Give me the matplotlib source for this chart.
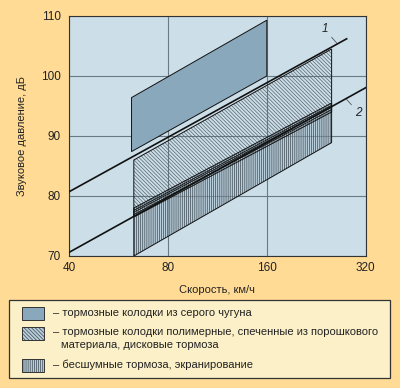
import numpy as np
import matplotlib
matplotlib.use("Agg")
import matplotlib.pyplot as plt
from matplotlib.patches import Polygon, Rectangle

plt.rcParams['font.family'] = ['Liberation Sans', 'DejaVu Sans']
plt.rcParams['hatch.linewidth'] = 0.5

# speed, km/h (log2 axis) and sound pressure, dB
x_ticks = [40, 80, 160, 320]
y_ticks = [70, 80, 90, 100, 110]

# bands: speed range, lower edge (left, right), upper edge (left, right)
iron_v = [62, 160]
iron_low = [87.4, 100.0]
iron_high = [96.4, 109.3]

polymer_v = [63, 252]
polymer_low = [76.5, 94.0]
polymer_high = [86.0, 104.5]

quiet_v = [63, 252]
quiet_low = [70.0, 88.9]
quiet_high = [78.0, 95.5]

# dense lines in the overlap band
band_left = [76.9, 77.3, 77.6]
band_right = [94.4, 94.8, 95.1]

# boundary lines 1 and 2
line1_v = [40, 280]
line1_db = [80.7, 106.2]
line2_v = [40, 320]
line2_db = [70.6, 98.05]

bg = '#FFDB95'
ax_bg = '#CCDEE8'
iron_col = '#8AA8BB'
hatch_col = '#3c4850'

fig = plt.figure(figsize=(4.0, 3.88), dpi=100, facecolor=bg)
ax = fig.add_axes([69/400, 1-256/388, 296.7/400, 240/388])
ax.set_facecolor(ax_bg)
ax.set_xscale('log', base=2)
ax.set_xlim(40, 320)
ax.set_ylim(70, 110)


def band(v, low, high):
    return [(v[0], low[0]), (v[1], low[1]), (v[1], high[1]), (v[0], high[0])]


ax.add_patch(Polygon(band(quiet_v, quiet_low, quiet_high), closed=True,
                     facecolor=(0.66, 0.75, 0.81, 0.5), edgecolor=hatch_col,
                     hatch='||||||||', linewidth=0, zorder=2))
ax.add_patch(Polygon(band(quiet_v, quiet_low, quiet_high), closed=True,
                     facecolor='none', edgecolor='#111111', linewidth=0.7, zorder=3))
ax.add_patch(Polygon(band(polymer_v, polymer_low, polymer_high), closed=True,
                     facecolor='none', edgecolor='#56646c', hatch='\\' * 9,
                     linewidth=0, zorder=2))
ax.add_patch(Polygon(band(polymer_v, polymer_low, polymer_high), closed=True,
                     facecolor='none', edgecolor='#111111', linewidth=0.7, zorder=3))
for a, b in zip(band_left, band_right):
    ax.plot(polymer_v, [a, b], color='#111111', lw=0.6, zorder=3)

ax.add_patch(Polygon(band(iron_v, iron_low, iron_high), closed=True,
                     facecolor=iron_col, edgecolor='#111111', linewidth=0.7, zorder=3))

ax.plot(line1_v, line1_db, color='#111111', lw=1.2, zorder=4)
ax.plot(line2_v, line2_db, color='#111111', lw=1.2, zorder=4)

# labels 1 and 2 with leaders
ax.annotate('1', xy=(262, 105.4), xytext=(240, 107.8), fontsize=8.5, style='italic',
            color='#222222', ha='center', va='center',
            arrowprops=dict(arrowstyle='-', color='#555555', lw=0.6,
                            shrinkA=1, shrinkB=0))
ax.annotate('2', xy=(280, 96.1), xytext=(304, 93.9), fontsize=8.5, style='italic',
            color='#222222', ha='center', va='center',
            arrowprops=dict(arrowstyle='-', color='#555555', lw=0.6,
                            shrinkA=1, shrinkB=0))

ax.set_xticks(x_ticks)
ax.set_xticklabels([str(t) for t in x_ticks])
ax.xaxis.set_minor_locator(matplotlib.ticker.NullLocator())
ax.set_yticks(y_ticks)
ax.tick_params(length=0, labelsize=8.5, colors='#222222')
ax.tick_params(axis='x', pad=4)
ax.tick_params(axis='y', pad=6)
ax.grid(True, color='#6a7a84', lw=0.8, zorder=0.5)
ax.set_axisbelow(True)
for s in ax.spines.values():
    s.set_color('#333333')
    s.set_linewidth(0.8)

ax.set_xlabel('Скорость, км/ч', fontsize=8, color='#222222')
ax.xaxis.set_label_coords(0.5, -0.121)
ax.set_ylabel('Звуковое давление, дБ', fontsize=8, color='#222222')
ax.yaxis.set_label_coords(-0.142, 0.5)

# legend drawn in pixel coordinates
lg = fig.add_axes([0, 0, 1, 1], zorder=5)
lg.set_xlim(0, 400)
lg.set_ylim(388, 0)
lg.axis('off')
lg.add_patch(Rectangle((9, 300), 381, 78, facecolor='#FBF0C8',
                       edgecolor='#333333', lw=0.9))
lg.add_patch(Rectangle((22, 307), 22, 13, facecolor=iron_col,
                       edgecolor='#333333', lw=0.7))
lg.add_patch(Rectangle((22, 327), 22, 13, facecolor='#B9CEDB',
                       edgecolor=hatch_col, hatch='\\' * 9, lw=0))
lg.add_patch(Rectangle((22, 327), 22, 13, facecolor='none',
                       edgecolor='#333333', lw=0.7))
lg.add_patch(Rectangle((22, 359), 22, 13, facecolor='#B9CEDB',
                       edgecolor=hatch_col, hatch='||||||||', lw=0))
lg.add_patch(Rectangle((22, 359), 22, 13, facecolor='none',
                       edgecolor='#333333', lw=0.7))
kw = dict(fontsize=8, color='#222222', va='center', ha='left')
lg.text(53, 313, '– тормозные колодки из серого чугуна', **kw)
lg.text(53, 332, '– тормозные колодки полимерные, спеченные из порошкового', **kw)
lg.text(61, 345, 'материала, дисковые тормоза', **kw)
lg.text(53, 365, '– бесшумные тормоза, экранирование', **kw)

fig.savefig('out.png', dpi=100, facecolor=bg)
